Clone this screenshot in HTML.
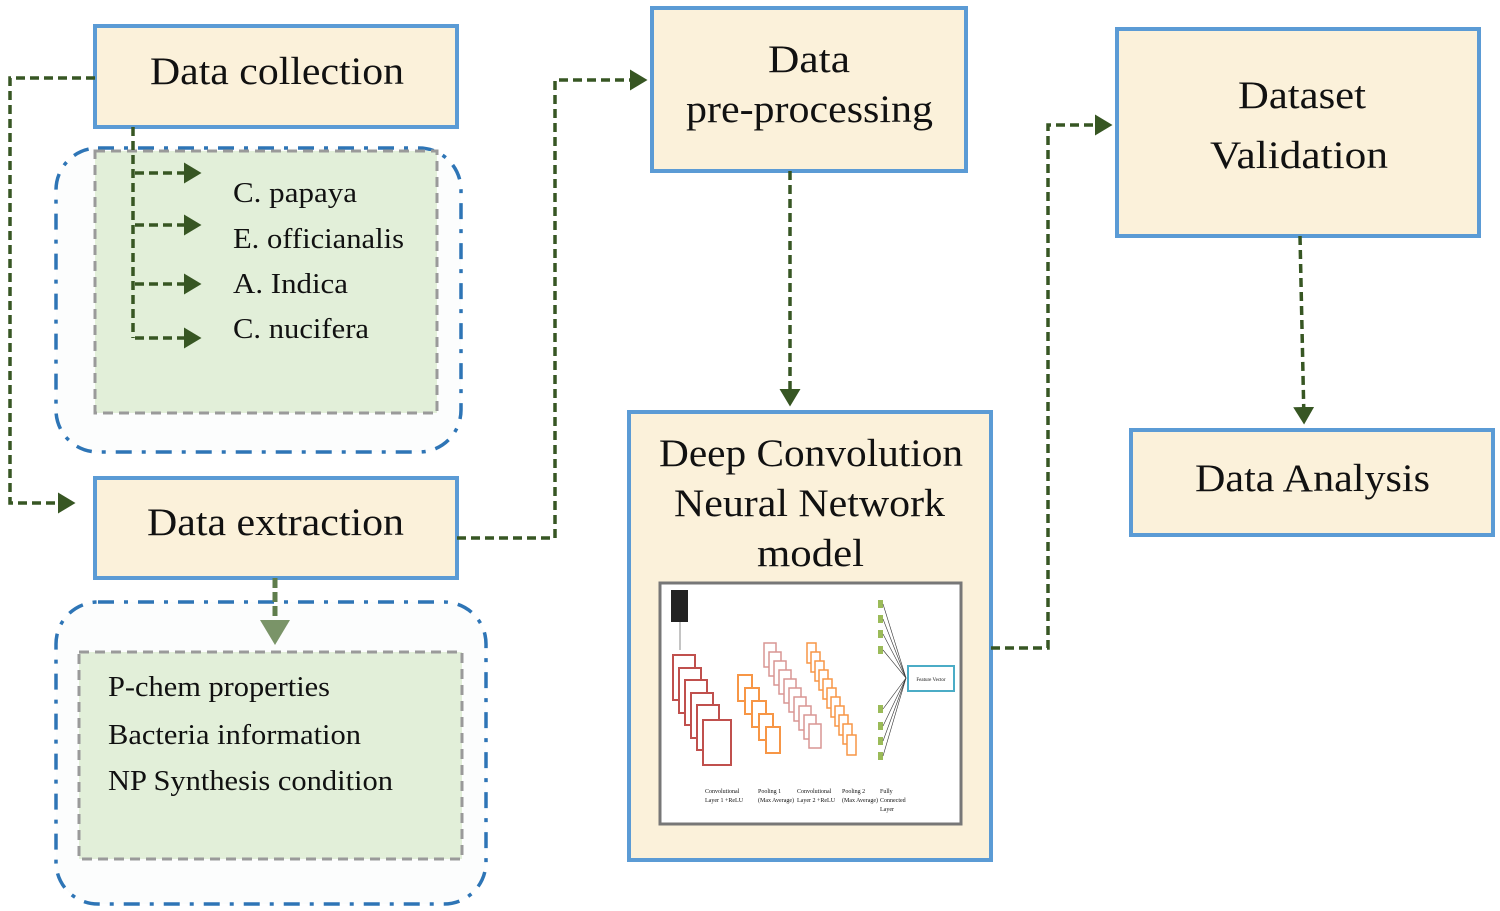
<!DOCTYPE html>
<html><head><meta charset="utf-8"><style>
html,body{margin:0;padding:0;background:#fff}
svg{display:block}
text{font-family:"Liberation Serif",serif;fill:#111}
</style></head><body>
<svg width="1500" height="911" viewBox="0 0 1500 911" xmlns="http://www.w3.org/2000/svg">
<defs>
<marker id="ar" markerWidth="6" markerHeight="6" refX="4" refY="3" orient="auto" markerUnits="strokeWidth">
<path d="M0,0 L5,3 L0,6 Z" fill="#375623"/></marker>
<marker id="ar2" markerWidth="6" markerHeight="6" refX="4" refY="3" orient="auto" markerUnits="strokeWidth">
<path d="M0,0 L5,3 L0,6 Z" fill="#7a9468"/></marker>
</defs>

<rect x="56" y="148" width="405" height="304" rx="42" fill="#fcfdfd" stroke="#2e75b6" stroke-width="3.5" stroke-dasharray="16,10,4,10"/>
<rect x="56" y="602" width="430" height="302" rx="42" fill="#fcfdfd" stroke="#2e75b6" stroke-width="3.5" stroke-dasharray="16,10,4,10"/>
<rect x="95" y="151" width="342" height="262" fill="#e2efd9" stroke="#9a9a9a" stroke-width="3" stroke-dasharray="10,6"/>
<rect x="79" y="652" width="383" height="207" fill="#e2efd9" stroke="#9a9a9a" stroke-width="3" stroke-dasharray="10,6"/>

<g fill="#fbf1da" stroke="#5b9bd5" stroke-width="4">
<rect x="95" y="26" width="362" height="101"/>
<rect x="95" y="478" width="362" height="100"/>
<rect x="652" y="8" width="314" height="163"/>
<rect x="629" y="412" width="362" height="448"/>
<rect x="1117" y="29" width="362" height="207"/>
<rect x="1131" y="430" width="362" height="105"/>
</g>

<g fill="none" stroke="#375623" stroke-width="3.5" stroke-dasharray="9,5">
<path d="M95,78 H10 V503 H72" marker-end="url(#ar)"/>
<path d="M133,127 V338"/>
<path d="M135,173 H198" marker-end="url(#ar)"/>
<path d="M135,225 H198" marker-end="url(#ar)"/>
<path d="M135,284 H198" marker-end="url(#ar)"/>
<path d="M135,338 H198" marker-end="url(#ar)"/>
<path d="M457,538 H555 V80 H644" marker-end="url(#ar)"/>
<path d="M790,171 V403" marker-end="url(#ar)"/>
<path d="M991,648 H1048 V125 H1109" marker-end="url(#ar)"/>
<path d="M1300,236 L1304,421" marker-end="url(#ar)"/>
</g>
<path d="M275,578 V640" stroke="#5f7d4c" stroke-width="5" stroke-dasharray="10,4" marker-end="url(#ar2)" fill="none"/>

<g font-size="39" lengthAdjust="spacingAndGlyphs">
<text x="150" y="84" textLength="254" lengthAdjust="spacingAndGlyphs">Data collection</text>
<text x="147" y="535" textLength="257" lengthAdjust="spacingAndGlyphs">Data extraction</text>
<text x="768" y="72" textLength="82" lengthAdjust="spacingAndGlyphs">Data</text>
<text x="686" y="122" textLength="247" lengthAdjust="spacingAndGlyphs">pre-processing</text>
<text x="659" y="466" textLength="304" lengthAdjust="spacingAndGlyphs">Deep Convolution</text>
<text x="674" y="516" textLength="271" lengthAdjust="spacingAndGlyphs">Neural Network</text>
<text x="757" y="566" textLength="107" lengthAdjust="spacingAndGlyphs">model</text>
<text x="1238" y="108" textLength="128" lengthAdjust="spacingAndGlyphs">Dataset</text>
<text x="1210" y="168" textLength="178" lengthAdjust="spacingAndGlyphs">Validation</text>
<text x="1195" y="491" textLength="235" lengthAdjust="spacingAndGlyphs">Data Analysis</text>
</g>

<g font-size="29">
<text x="233" y="202" textLength="124" lengthAdjust="spacingAndGlyphs">C. papaya</text>
<text x="233" y="248" textLength="171" lengthAdjust="spacingAndGlyphs">E. officianalis</text>
<text x="233" y="293" textLength="115" lengthAdjust="spacingAndGlyphs">A. Indica</text>
<text x="233" y="338" textLength="136" lengthAdjust="spacingAndGlyphs">C. nucifera</text>
<text x="108" y="696" textLength="222" lengthAdjust="spacingAndGlyphs">P-chem properties</text>
<text x="108" y="744" textLength="253" lengthAdjust="spacingAndGlyphs">Bacteria information</text>
<text x="108" y="790" textLength="285" lengthAdjust="spacingAndGlyphs">NP Synthesis condition</text>
</g>

<rect x="660" y="583" width="301" height="241" fill="#fff" stroke="#777" stroke-width="3"/>
<rect x="671" y="590" width="17" height="32" fill="#222"/>
<line x1="680" y1="622" x2="680" y2="650" stroke="#888" stroke-width="1"/>
<g fill="#fff" stroke="#c0504d" stroke-width="2">
<rect x="673" y="655" width="22" height="45"/><rect x="679" y="668" width="22" height="45"/>
<rect x="685" y="680" width="22" height="45"/><rect x="691" y="693" width="22" height="45"/>
<rect x="697" y="705" width="22" height="45"/><rect x="703" y="720" width="28" height="45"/>
</g>
<g fill="#fff" stroke="#f79646" stroke-width="2">
<rect x="738" y="675" width="14" height="26"/><rect x="745" y="688" width="14" height="26"/>
<rect x="752" y="701" width="14" height="26"/><rect x="759" y="714" width="14" height="26"/>
<rect x="766" y="727" width="14" height="26"/>
</g>
<g fill="#fff" stroke="#d99594" stroke-width="1.5">
<rect x="764" y="643" width="12" height="24"/><rect x="769" y="652" width="12" height="24"/>
<rect x="774" y="661" width="12" height="24"/><rect x="779" y="670" width="12" height="24"/>
<rect x="784" y="679" width="12" height="24"/><rect x="789" y="688" width="12" height="24"/>
<rect x="794" y="697" width="12" height="24"/><rect x="799" y="706" width="12" height="24"/>
<rect x="804" y="715" width="12" height="24"/><rect x="809" y="724" width="12" height="24"/>
</g>
<g fill="#fff" stroke="#f79646" stroke-width="1.5">
<rect x="807" y="643" width="9" height="20"/><rect x="811" y="652" width="9" height="20"/>
<rect x="815" y="661" width="9" height="20"/><rect x="819" y="670" width="9" height="20"/>
<rect x="823" y="679" width="9" height="20"/><rect x="827" y="688" width="9" height="20"/>
<rect x="831" y="697" width="9" height="20"/><rect x="835" y="706" width="9" height="20"/>
<rect x="839" y="715" width="9" height="20"/><rect x="843" y="724" width="9" height="20"/>
<rect x="847" y="735" width="9" height="20"/>
</g>
<g fill="#9bbb59">
<rect x="878" y="600" width="5" height="8"/><rect x="878" y="615" width="5" height="8"/>
<rect x="878" y="630" width="5" height="8"/><rect x="878" y="646" width="5" height="8"/>
<rect x="878" y="705" width="5" height="8"/><rect x="878" y="722" width="5" height="8"/>
<rect x="878" y="737" width="5" height="8"/><rect x="878" y="752" width="5" height="8"/>
</g>
<g stroke="#333" stroke-width="0.6">
<line x1="883" y1="604" x2="906" y2="678"/><line x1="883" y1="619" x2="906" y2="678"/>
<line x1="883" y1="634" x2="906" y2="678"/><line x1="883" y1="650" x2="906" y2="678"/>
<line x1="883" y1="709" x2="906" y2="678"/><line x1="883" y1="726" x2="906" y2="678"/>
<line x1="883" y1="741" x2="906" y2="678"/><line x1="883" y1="756" x2="906" y2="678"/>
</g>
<rect x="908" y="666" width="46" height="25" fill="#fff" stroke="#4bacc6" stroke-width="2"/>
<text x="931" y="681" font-size="5" text-anchor="middle">Feature Vector</text>
<g font-size="6" fill="#555">
<text x="705" y="793">Convolutional</text><text x="705" y="802">Layer 1 +ReLU</text>
<text x="758" y="793">Pooling 1</text><text x="758" y="802">(Max Average)</text>
<text x="797" y="793">Convolutional</text><text x="797" y="802">Layer 2 +ReLU</text>
<text x="842" y="793">Pooling 2</text><text x="842" y="802">(Max Average)</text>
<text x="880" y="793">Fully</text><text x="880" y="802">Connected</text><text x="880" y="811">Layer</text>
</g>
</svg>
</body></html>
